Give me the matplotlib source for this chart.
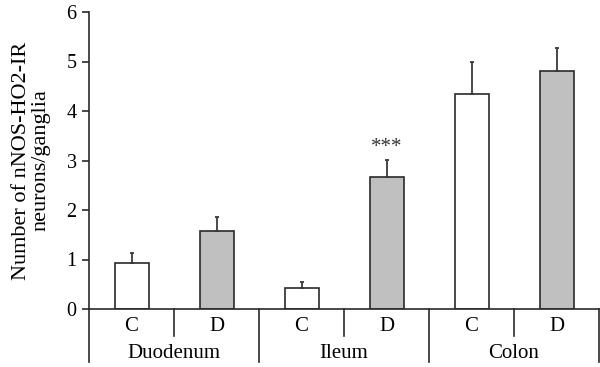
import matplotlib
matplotlib.use("Agg")
import matplotlib.pyplot as plt
import numpy as np

plt.rcParams['font.family'] = ['Liberation Serif', 'DejaVu Serif']

regions = ["Duodenum", "Ileum", "Colon"]
groups = ["C", "D", "C", "D", "C", "D"]
means = [0.93, 1.58, 0.42, 2.67, 4.34, 4.81]
errs = [0.20, 0.27, 0.13, 0.34, 0.64, 0.46]
fills = ["white", "#c0c0c0", "white", "#c0c0c0", "white", "#c0c0c0"]
marks = ["", "", "", "***", "", ""]

fig = plt.figure(figsize=(6, 3.67), dpi=100)
ax = fig.add_axes([89/600, 1-309/367, 510/600, 297/367])

lc = "#2a2a2a"
x = np.arange(len(means)) + 0.5
ax.bar(x, means, width=0.4, color=fills, edgecolor=lc, linewidth=1.2, zorder=2)
ax.errorbar(x, means, yerr=[np.zeros(len(errs)), errs], fmt="none",
            ecolor="#3a3a3a", elinewidth=1.3, capsize=1.5, capthick=1.3, zorder=3)
for xi, m, e, s in zip(x, means, errs, marks):
    if s:
        ax.text(xi, m + e + 0.06, s, ha="center", va="bottom", fontsize=15, color="#333333")

ax.set_xlim(0, 6)
ax.set_ylim(0, 6)
ax.set_yticks(range(7))
ax.set_xticks([])
for s in ["top", "right"]:
    ax.spines[s].set_visible(False)
for s in ["left", "bottom"]:
    ax.spines[s].set_color(lc)
    ax.spines[s].set_linewidth(1.2)
ax.tick_params(axis="y", length=5, width=1.2, color=lc, labelsize=14.5, pad=4)

# category separators below axis
for i in range(1, 6):
    low = -1.07 if i % 2 == 0 else -0.55
    ax.plot([i, i], [0, low], color=lc, lw=1.2, clip_on=False)
ax.plot([0, 0], [0, -1.07], color=lc, lw=1.2, clip_on=False)
ax.plot([6, 6], [0, -1.07], color=lc, lw=1.2, clip_on=False)

for xi, g in zip(x, groups):
    ax.text(xi, -0.36, g, ha="center", va="center", fontsize=15)
for k, r in enumerate(regions):
    ax.text(2*k + 1, -0.89, r, ha="center", va="center", fontsize=15)

ax.set_ylabel("Number of nNOS-HO2-IR\nneurons/ganglia", fontsize=16, linespacing=1.05)
ax.yaxis.set_label_coords(-0.076, 0.5)

fig.savefig("out.png", dpi=100)
